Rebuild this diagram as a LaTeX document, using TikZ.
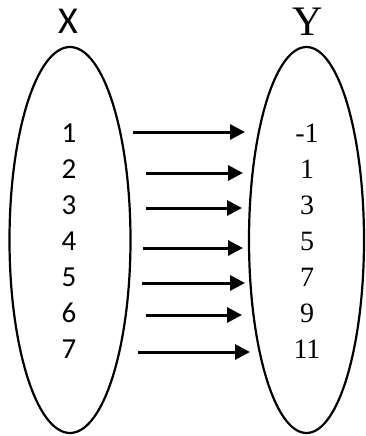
\documentclass[tikz,border=0pt]{standalone}
\usepackage{fontspec}
\newfontfamily\carlito{Carlito}
\newfontfamily\tnr{Liberation Serif}
\usetikzlibrary{shapes.geometric,arrows.meta}
\tikzset{
  setbox/.style={draw, ellipse, line width=2.2pt, inner sep=0pt, minimum width=120pt, minimum height=386pt},
  lnum/.style={font=\carlito\fontsize{29}{29}\selectfont},
  rnum/.style={font=\tnr\fontsize{28}{28}\selectfont},
  mapsto/.style={draw, line width=3pt, -{Triangle[length=15pt,width=15pt]}}
}

\begin{document}
\begin{tikzpicture}[x=1pt,y=-1pt]
\useasboundingbox (0,0) rectangle (365,436);
\node[setbox, minimum width=121pt] (setX) at (70,240) {};
\node[setbox, minimum width=115pt] (setY) at (306.5,240) {};
\node[font=\carlito\fontsize{38}{38}\selectfont] (labX) at (68,21) {X};
\node[font=\tnr\fontsize{42}{42}\selectfont] (labY) at (308,22) {Y};
%
\foreach \v [count=\i] in {1,...,7}
  \node[lnum] (x\i) at (69,{97+36*\i}) {\v};
\foreach \v [count=\i] in {-1,1,3,5,7,9,11}
  \node[rnum] (y\i) at (307,{97+36*\i}) {\v};
%
\foreach \i/\ya/\xs/\xe in {1/132/133/245, 2/173/146/243, 3/208/146/242,
    4/248/143/243, 5/283/142/245, 6/315/146/242, 7/352/138/250} {
  \coordinate (s\i) at (\xs,\ya);
  \coordinate (e\i) at (\xe,\ya);
  \draw[mapsto] (s\i) -- (e\i);
}
\end{tikzpicture}
\end{document}
